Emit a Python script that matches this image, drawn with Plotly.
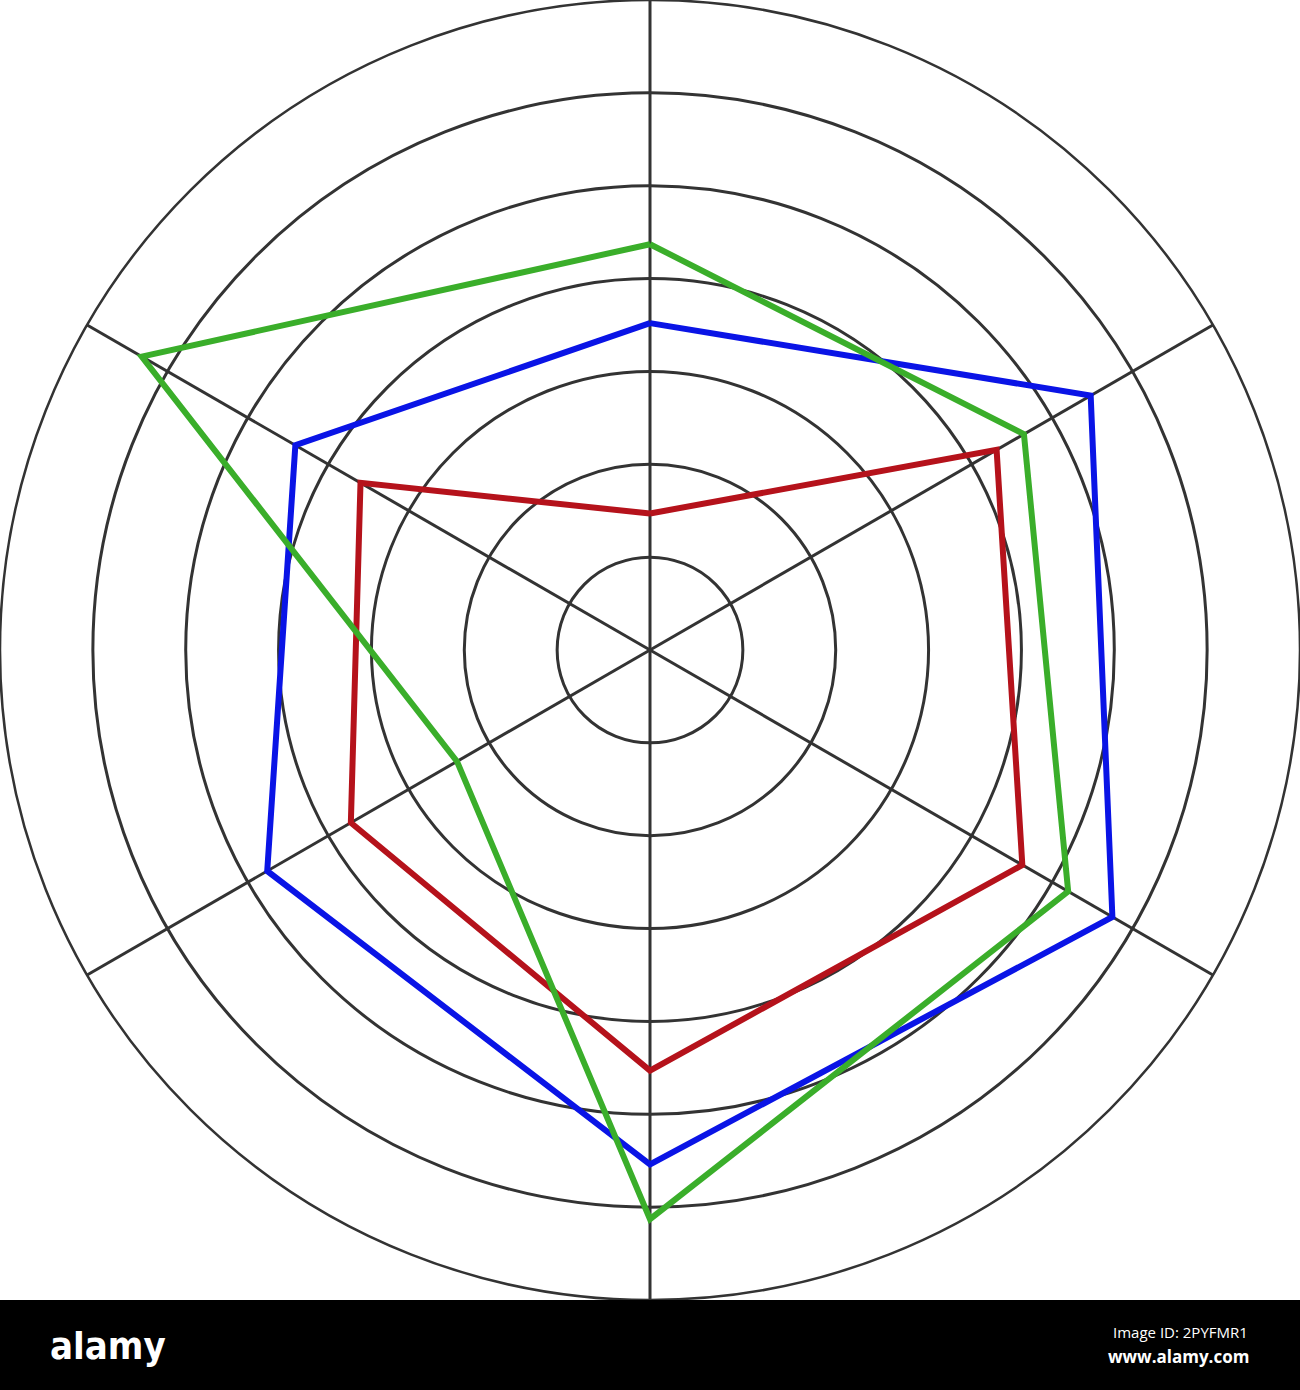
import plotly.graph_objects as go

# axis directions, clockwise from the top
axes = [0, 60, 120, 180, 240, 300]

# values (rings are 1..7)
red_vals = [1.47, 4.31, 4.63, 4.53, 3.72, 3.60]
blue_vals = [3.52, 5.48, 5.75, 5.54, 4.76, 4.41]
green_vals = [4.37, 4.65, 5.20, 6.13, 2.40, 6.32]

series = [("Red", red_vals, "#b5121b"),
          ("Blue", blue_vals, "#0a14e6"),
          ("Green", green_vals, "#3aae2a")]

W, H = 1300, 1390
bar_h = 90

fig = go.Figure()
for name, vals, col in series:
    fig.add_trace(go.Scatterpolar(r=vals + vals[:1], theta=axes + axes[:1],
                                  mode="lines", name=name,
                                  line=dict(color=col, width=6)))

fig.update_layout(
    width=W, height=H,
    margin=dict(l=0, r=0, t=0, b=0),
    paper_bgcolor="white",
    showlegend=False,
    polar=dict(
        domain=dict(x=[0, 1], y=[bar_h / H, 1]),
        bgcolor="white",
        radialaxis=dict(range=[0, 7], dtick=1, showticklabels=False, ticks="",
                        showline=False, gridcolor="#333333", gridwidth=2.5),
        angularaxis=dict(rotation=90, direction="clockwise",
                         tickmode="array", tickvals=axes, showticklabels=False,
                         ticks="", showline=True, linecolor="#333333", linewidth=2.5,
                         gridcolor="#333333", gridwidth=2.5),
    ),
)

# black watermark strip
fig.add_shape(type="rect", xref="paper", yref="paper", x0=0, x1=1, y0=0, y1=bar_h / H,
              fillcolor="black", line=dict(width=0), layer="above")
fig.add_annotation(text="<b>alamy</b>", xref="paper", yref="paper", x=48 / W, y=44 / H,
                   xanchor="left", yanchor="middle", showarrow=False,
                   font=dict(family="DejaVu Sans Condensed, Liberation Sans Narrow, Arial Narrow, DejaVu Sans",
                             size=38, color="white"))
fig.add_annotation(text="Image ID: 2PYFMR1", xref="paper", yref="paper", x=1250 / W, y=58 / H,
                   xanchor="right", yanchor="middle", showarrow=False,
                   font=dict(family="Open Sans", size=15, color="white"))
fig.add_annotation(text="<b>www.alamy.com</b>", xref="paper", yref="paper", x=1251 / W, y=34 / H,
                   xanchor="right", yanchor="middle", showarrow=False,
                   font=dict(family="Open Sans", size=17, color="white"))

fig.write_html("out.html", config={"displayModeBar": False},
               post_script="document.body.style.margin='0';")
